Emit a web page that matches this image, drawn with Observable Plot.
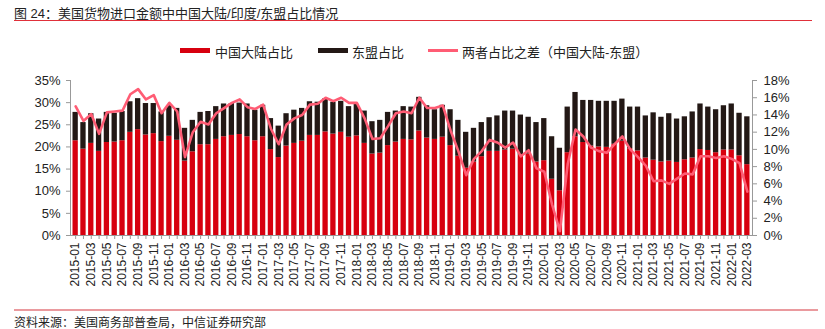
<!DOCTYPE html>
<html>
<head>
<meta charset="utf-8">
<script src="https://cdn.jsdelivr.net/npm/d3@7"></script>
<script src="https://cdn.jsdelivr.net/npm/@observablehq/plot@0.6"></script>
<style>
  html, body { margin: 0; padding: 0; background: #fff; }
  body { width: 825px; height: 329px; position: relative; overflow: hidden;
         font-family: "Liberation Sans", "Noto Sans CJK SC", sans-serif; color: #222; }
  #title { position: absolute; left: 14px; top: 3px; font-size: 13px; white-space: nowrap; }
  #titleRule { position: absolute; left: 14px; top: 20px; width: 798px; height: 0; border-top: 1.5px solid #e0303a; }
  .leg { position: absolute; top: 42px; font-size: 13px; white-space: nowrap; }
  .sw { position: absolute; top: 48px; width: 30px; }
  #chart { position: absolute; left: 0; top: 70px; }
  #srcRule { position: absolute; left: 14px; top: 309px; width: 804px; height: 0; border-top: 2px solid #ea9a9e; }
  #source { position: absolute; left: 14px; top: 313px; font-size: 12px; white-space: nowrap; }
</style>
</head>
<body>
<div id="title">图 24：美国货物进口金额中中国大陆/印度/东盟占比情况</div>
<div id="titleRule"></div>
<div class="sw" style="left:180px;height:5px;background:#d7000f;"></div>
<div class="leg" style="left:215px;">中国大陆占比</div>
<div class="sw" style="left:318px;height:5px;background:#231815;"></div>
<div class="leg" style="left:352px;">东盟占比</div>
<div class="sw" style="left:428px;top:49px;height:2.5px;background:#ff5c74;"></div>
<div class="leg" style="left:462px;">两者占比之差（中国大陆-东盟）</div>
<div id="chart"></div>
<div id="srcRule"></div>
<div id="source">资料来源：美国商务部普查局，中信证券研究部</div>
<script>
// Months 2015-01 .. 2022-03
const months = [
  "2015-01","2015-02","2015-03","2015-04","2015-05","2015-06","2015-07","2015-08","2015-09","2015-10","2015-11","2015-12",
  "2016-01","2016-02","2016-03","2016-04","2016-05","2016-06","2016-07","2016-08","2016-09","2016-10","2016-11","2016-12",
  "2017-01","2017-02","2017-03","2017-04","2017-05","2017-06","2017-07","2017-08","2017-09","2017-10","2017-11","2017-12",
  "2018-01","2018-02","2018-03","2018-04","2018-05","2018-06","2018-07","2018-08","2018-09","2018-10","2018-11","2018-12",
  "2019-01","2019-02","2019-03","2019-04","2019-05","2019-06","2019-07","2019-08","2019-09","2019-10","2019-11","2019-12",
  "2020-01","2020-02","2020-03","2020-04","2020-05","2020-06","2020-07","2020-08","2020-09","2020-10","2020-11","2020-12",
  "2021-01","2021-02","2021-03","2021-04","2021-05","2021-06","2021-07","2021-08","2021-09","2021-10","2021-11","2021-12",
  "2022-01","2022-02","2022-03"
];
// 中国大陆占比 (%)
const chinaShare = [
  21.4,19.5,20.8,19.0,21.0,21.1,21.4,23.3,23.9,22.7,23.0,21.2,
  22.4,21.5,16.8,18.9,20.5,20.5,21.7,22.3,22.6,22.8,22.3,21.4,
  22.3,19.4,17.6,20.2,20.8,21.3,22.6,22.6,23.4,22.9,23.3,22.2,
  22.5,20.8,18.4,18.6,20.3,21.1,21.7,21.6,23.6,22.0,21.7,22.2,
  20.3,17.9,15.2,16.6,17.8,19.0,19.0,19.3,19.5,18.1,18.4,16.6,
  16.9,12.7,10.1,18.7,22.3,21.0,20.2,20.0,19.9,20.6,21.3,19.6,
  19.1,17.5,17.0,16.6,16.8,16.5,17.1,17.5,19.4,19.2,18.7,19.3,
  19.3,18.0,16.0
];
// 东盟占比 (%)
const aseanShare = [
  6.4,6.0,6.7,7.3,6.8,6.5,6.6,6.9,7.0,7.1,6.8,6.7,
  6.9,7.2,7.4,7.1,7.3,7.5,7.4,7.4,7.2,7.1,7.4,6.9,
  7.1,7.0,7.1,7.3,7.5,7.4,7.6,7.5,7.5,7.2,7.0,6.9,
  7.1,7.3,7.3,7.4,7.5,7.0,7.4,7.4,7.6,7.3,6.7,7.2,
  8.1,8.1,8.1,7.6,7.7,7.6,8.0,8.8,8.6,9.1,8.3,8.9,
  9.5,9.6,9.6,10.3,10.0,9.5,10.3,10.3,10.4,9.7,9.5,9.4,
  9.9,9.5,10.7,10.1,10.7,9.8,9.7,10.4,10.3,9.8,9.7,10.0,
  10.4,9.6,10.8
];
// 两者占比之差 (%), right axis
const shareDiff = [
  15.0,13.3,14.1,11.8,14.3,14.4,14.5,16.4,17.0,15.8,16.3,14.2,
  15.4,14.4,9.1,12.0,13.2,12.9,14.2,14.8,15.4,15.8,14.9,14.7,
  15.2,12.4,10.6,12.9,13.6,14.0,15.2,15.3,16.0,15.6,16.0,15.4,
  15.4,13.6,11.2,11.3,12.7,14.2,14.4,14.2,16.0,14.8,14.8,15.1,
  12.2,9.8,7.0,8.9,9.8,11.1,10.8,10.2,10.8,9.2,9.9,7.8,
  7.4,3.6,0.5,8.3,12.3,11.5,10.2,9.8,9.6,10.6,11.5,10.0,
  9.1,8.1,6.3,6.4,6.0,6.6,7.2,7.1,9.2,9.2,9.0,9.2,
  8.9,8.4,5.1
];
const seriesNames = ["中国大陆占比", "东盟占比"];
const leftTicks = [0,5,10,15,20,25,30,35];
const rightTicks = [0,2,4,6,8,10,12,14,16,18];
const leftMax = 35, rightMax = 18;

const bars = [];
months.forEach((m, i) => {
  bars.push({month: m, series: seriesNames[0], value: chinaShare[i]});
  bars.push({month: m, series: seriesNames[1], value: aseanShare[i]});
});
const diffData = months.map((m, i) => ({month: m, v: shareDiff[i]}));
const toLeft = v => v * leftMax / rightMax;

const chart = Plot.plot({
  width: 825,
  height: 230,
  marginLeft: 70,
  marginRight: 73,
  marginTop: 10,
  marginBottom: 65,
  style: {fontFamily: '"Liberation Sans", "Noto Sans CJK SC", sans-serif', fontSize: "12px", color: "#222", background: "transparent"},
  x: {type: "band", domain: months, padding: 0.32, label: null},
  y: {domain: [0, leftMax], label: null},
  color: {domain: seriesNames, range: ["#d7000f", "#231815"]},
  marks: [
    Plot.barY(bars, {x: "month", y: "value", fill: "series", order: seriesNames}),
    Plot.line(diffData, {x: "month", y: d => toLeft(d.v), stroke: "#ff5c74", strokeWidth: 2.6, curve: "linear"}),
    Plot.frame({anchor: "left", stroke: "#999"}),
    Plot.frame({anchor: "right", stroke: "#999"}),
    Plot.frame({anchor: "bottom", stroke: "#999"}),
    Plot.axisY(leftTicks, {anchor: "left", tickFormat: d => d + "%", tickSize: 4, tickPadding: 6, fontSize: 13, stroke: "#999", label: null}),
    Plot.axisY(rightTicks.map(toLeft), {anchor: "right", tickFormat: d => Math.round(d * rightMax / leftMax) + "%", tickSize: 4, tickPadding: 7, fontSize: 13, stroke: "#999", label: null}),
    Plot.axisX({anchor: "bottom", tickRotate: -90, tickSize: 4, tickPadding: 3, fontSize: 12, stroke: "#999", label: null,
      tickFormat: (d, i) => (months.indexOf(d) % 2 === 0 ? d : "")})
  ]
});
document.getElementById("chart").appendChild(chart);
</script>
</body>
</html>
